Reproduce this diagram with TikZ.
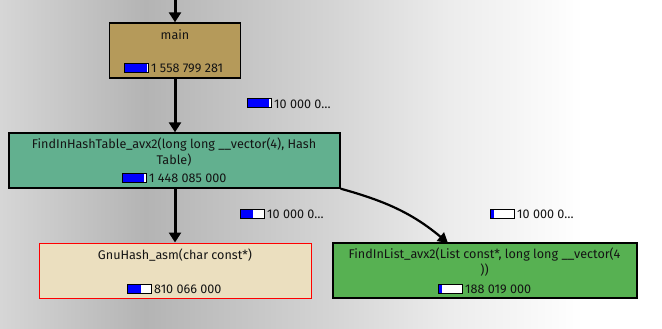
\documentclass[tikz,border=0pt]{standalone}
\usepackage{fontspec}
\setmainfont{Fira Sans}
\usetikzlibrary{arrows.meta,calc}

% canvas colours
\definecolor{bgA}{RGB}{214,214,214}
\definecolor{bgB}{RGB}{180,180,180}
\definecolor{bgC}{RGB}{212,212,212}
\definecolor{bgD}{RGB}{236,236,236}
\definecolor{bgE}{RGB}{255,255,255}
% box colours
\definecolor{mainfill}{RGB}{181,154,90}
\definecolor{hashfill}{RGB}{98,176,143}
\definecolor{gnufill}{RGB}{235,223,191}
\definecolor{listfill}{RGB}{87,177,82}
\definecolor{txt}{RGB}{20,20,20}
\definecolor{barblue}{RGB}{0,0,255}

\pgfdeclarehorizontalshading{canvasgrad}{100bp}{%
  color(0bp)=(bgA); color(25bp)=(bgA); color(36bp)=(bgB);
  color(50bp)=(bgC); color(59bp)=(bgD); color(69bp)=(bgE); color(100bp)=(bgE)}

\tikzset{
  fnbox/.style={draw=black, line width=1.4pt, rectangle, inner sep=0pt},
  lbl/.style={text=txt, font=\fontsize{12.6}{15}\selectfont, inner sep=0pt},
  edge/.style={line width=3pt, -{Triangle[length=10pt,width=12pt]}},
}

% cost bar: #1 = left end (mid height), #2 = filled fraction, #3 = value text
\newcommand\costbar[3]{%
  \fill[white] (#1) ++(0,-4.5) rectangle ++(24,9);
  \fill[barblue] (#1) ++(0,-4.5) rectangle ++(24*#2,9);
  \draw[black, line width=1pt] (#1) ++(0,-4.5) rectangle ++(24,9);
  \node[lbl, anchor=west] at ($(#1)+(27,0.5)$) {#3};
}

\begin{document}
\begin{tikzpicture}[x=1pt, y=-1pt]
  \useasboundingbox (0,0) rectangle (662,329);
  \shade[shading=canvasgrad] (0,0) rectangle (662,329);

  % function boxes
  \node[fnbox, fill=mainfill, minimum width=131pt, minimum height=55pt] (main) at (175,50.5) {};
  \node[fnbox, fill=hashfill, minimum width=331pt, minimum height=55pt] (hash) at (174.5,160.5) {};
  \node[fnbox, draw=red, line width=1pt, fill=gnufill, minimum width=272pt, minimum height=55pt] (gnu) at (175,270.5) {};
  \node[fnbox, fill=listfill, minimum width=304pt, minimum height=55pt] (list) at (485,270.5) {};

  % box captions
  \node[lbl] (mainname) at (175,35) {main};
  \node[lbl] (hashname1) at (174,145) {FindInHashTable\_avx2(long long \_\_vector(4), Hash};
  \node[lbl] (hashname2) at (174,160) {Table)};
  \node[lbl] (gnuname) at (175,255) {GnuHash\_asm(char const*)};
  \node[lbl] (listname1) at (484.5,255) {FindInList\_avx2(List const*, long long \_\_vector(4};
  \node[lbl] (listname2) at (484.5,270) {))};

  % cost bars in boxes
  \coordinate (b1) at (124,68);
  \costbar{b1}{0.96}{1 558 799 281}
  \coordinate (b2) at (122,177.5);
  \costbar{b2}{0.92}{1 448 085 000}
  \coordinate (b3) at (127,288.5);
  \costbar{b3}{0.58}{810 066 000}
  \coordinate (b4) at (438,288.5);
  \costbar{b4}{0.16}{188 019 000}

  % connectors
  \coordinate (entry) at (175,-2);
  \draw[edge] (entry) -- (main.north);
  \draw[edge] (main.south) -- (main.south |- hash.north);
  \draw[edge] (main.south |- hash.south) -- (main.south |- gnu.north);
  \draw[line width=2.2pt, -{Triangle[length=10pt,width=11pt]}]
    (hash.south east) .. controls (385,201) and (412,213) .. (448,243);

  % connector cost labels
  \coordinate (e1) at (247,103.5);
  \costbar{e1}{0.92}{10 000 0…}
  \coordinate (e2) at (240,213.5);
  \costbar{e2}{0.55}{10 000 0…}
  \coordinate (e3) at (490,213.5);
  \costbar{e3}{0.16}{10 000 0…}
\end{tikzpicture}
\end{document}
